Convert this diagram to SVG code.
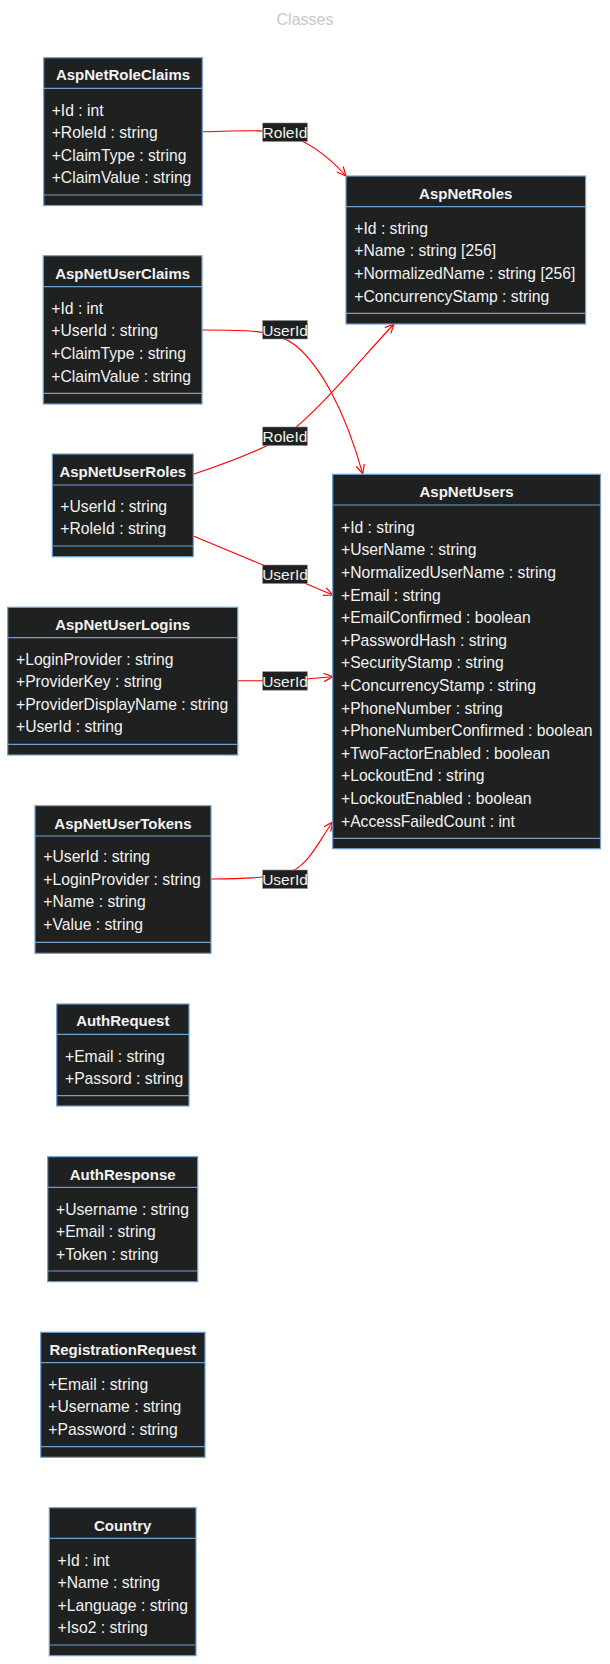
<svg xmlns="http://www.w3.org/2000/svg" width="610" height="1664" viewBox="0 0 610 1664">
<style>
.box{fill:#1f2020;stroke:#6f9fcf;stroke-width:1.2}
.div{stroke:#6f9fcf;stroke-width:1.2}
.hd{font-family:"Liberation Sans",Arial,sans-serif;font-size:15px;font-weight:bold;fill:#f2f2f2;text-anchor:middle;dominant-baseline:central}
.at{font-family:"Liberation Sans",Arial,sans-serif;font-size:15.7px;fill:#f2f2f2;dominant-baseline:central}
.title{font-family:"Liberation Sans",Arial,sans-serif;font-size:16px;fill:#c8c8c8;text-anchor:middle;dominant-baseline:central}
.edge{fill:none;stroke:#ff0000;stroke-width:1.1}
.lbg{fill:#1f2020;stroke:#8a8a8a;stroke-width:0.6}
.lt{font-family:"Liberation Sans",Arial,sans-serif;font-size:15.5px;fill:#f2f2f2;text-anchor:middle;dominant-baseline:central}
</style>
<defs>
<marker id="arr" viewBox="0 0 10 10" refX="9.5" refY="5" markerWidth="10" markerHeight="10" markerUnits="userSpaceOnUse" orient="auto">
<path d="M0.5,0.8 L9.5,5 L0.5,9.2" fill="none" stroke="#ff0000" stroke-width="1.2"/>
</marker>
</defs>
<rect width="610" height="1664" fill="#ffffff"/>
<text class="title" x="305" y="19">Classes</text>

<g id="connectors">
<path class="edge" d="M202.3,131.7 C240,131 262,129 285,134 C310,142 330,158 346,176" marker-end="url(#arr)"/>
<path class="edge" d="M202,330 C250,330 275,330 295,345 C320,365 345,410 362.7,473.8" marker-end="url(#arr)"/>
<path class="edge" d="M193.3,474.3 C230,462 262,450 285,436 C320,410 360,360 394,324" marker-end="url(#arr)"/>
<path class="edge" d="M193.3,536 L263,565 Q285,574 305,583.3 L332.7,595" marker-end="url(#arr)"/>
<path class="edge" d="M237.7,680.7 L285,680.7 L332.7,676.7" marker-end="url(#arr)"/>
<path class="edge" d="M211,879 C245,879 265,878 285,874 C308,868 318,842 332.7,822" marker-end="url(#arr)"/>
<g id="labels">
<rect class="lbg" x="262.7" y="123" width="44.6" height="18.5"/><text class="lt" x="285" y="132.5">RoleId</text>
<rect class="lbg" x="262.7" y="320.5" width="44.6" height="18.5"/><text class="lt" x="285" y="330">UserId</text>
<rect class="lbg" x="262.7" y="427" width="44.6" height="18.5"/><text class="lt" x="285" y="436.5">RoleId</text>
<rect class="lbg" x="262.7" y="565" width="44.6" height="18.5"/><text class="lt" x="285" y="574.5">UserId</text>
<rect class="lbg" x="262.7" y="671.7" width="44.6" height="18.5"/><text class="lt" x="285" y="681">UserId</text>
<rect class="lbg" x="262.7" y="870" width="44.6" height="18.5"/><text class="lt" x="285" y="879.5">UserId</text>
</g>
</g>

<g id="AspNetRoleClaims">
<rect class="box" x="43.7" y="57.7" width="158.6" height="147.8"/>
<line class="div" x1="43.7" y1="88.3" x2="202.3" y2="88.3"/>
<line class="div" x1="43.7" y1="195" x2="202.3" y2="195"/>
<text class="hd" x="123" y="74.5">AspNetRoleClaims</text>
<text class="at" x="51.7" y="110">+Id : int</text>
<text class="at" x="51.7" y="132.6">+RoleId : string</text>
<text class="at" x="51.7" y="155.2">+ClaimType : string</text>
<text class="at" x="51.7" y="177.8">+ClaimValue : string</text>
</g>

<g id="AspNetRoles">
<rect class="box" x="346" y="176" width="239.6" height="148"/>
<line class="div" x1="346" y1="206.7" x2="585.6" y2="206.7"/>
<line class="div" x1="346" y1="313.3" x2="585.6" y2="313.3"/>
<text class="hd" x="465.8" y="193">AspNetRoles</text>
<text class="at" x="354.3" y="228.3">+Id : string</text>
<text class="at" x="354.3" y="250.9">+Name : string [256]</text>
<text class="at" x="354.3" y="273.5">+NormalizedName : string [256]</text>
<text class="at" x="354.3" y="296.1">+ConcurrencyStamp : string</text>
</g>

<g id="AspNetUserClaims">
<rect class="box" x="43.3" y="255.7" width="158.7" height="148.3"/>
<line class="div" x1="43.3" y1="286.7" x2="202" y2="286.7"/>
<line class="div" x1="43.3" y1="393.3" x2="202" y2="393.3"/>
<text class="hd" x="122.7" y="273">AspNetUserClaims</text>
<text class="at" x="51.3" y="308.3">+Id : int</text>
<text class="at" x="51.3" y="330.9">+UserId : string</text>
<text class="at" x="51.3" y="353.5">+ClaimType : string</text>
<text class="at" x="51.3" y="376.1">+ClaimValue : string</text>
</g>

<g id="AspNetUserRoles">
<rect class="box" x="52.3" y="454" width="141" height="102.7"/>
<line class="div" x1="52.3" y1="485" x2="193.3" y2="485"/>
<line class="div" x1="52.3" y1="546" x2="193.3" y2="546"/>
<text class="hd" x="122.8" y="471.5">AspNetUserRoles</text>
<text class="at" x="60.3" y="506.3">+UserId : string</text>
<text class="at" x="60.3" y="528.9">+RoleId : string</text>
</g>

<g id="AspNetUsers">
<rect class="box" x="332.7" y="474.3" width="267.8" height="374.4"/>
<line class="div" x1="332.7" y1="505" x2="600.5" y2="505"/>
<line class="div" x1="332.7" y1="838.4" x2="600.5" y2="838.4"/>
<text class="hd" x="466.6" y="491.5">AspNetUsers</text>
<text class="at" x="341" y="527.3">+Id : string</text>
<text class="at" x="341" y="549.9">+UserName : string</text>
<text class="at" x="341" y="572.5">+NormalizedUserName : string</text>
<text class="at" x="341" y="595.1">+Email : string</text>
<text class="at" x="341" y="617.7">+EmailConfirmed : boolean</text>
<text class="at" x="341" y="640.3">+PasswordHash : string</text>
<text class="at" x="341" y="662.9">+SecurityStamp : string</text>
<text class="at" x="341" y="685.5">+ConcurrencyStamp : string</text>
<text class="at" x="341" y="708.1">+PhoneNumber : string</text>
<text class="at" x="341" y="730.7">+PhoneNumberConfirmed : boolean</text>
<text class="at" x="341" y="753.3">+TwoFactorEnabled : boolean</text>
<text class="at" x="341" y="775.9">+LockoutEnd : string</text>
<text class="at" x="341" y="798.5">+LockoutEnabled : boolean</text>
<text class="at" x="341" y="821.1">+AccessFailedCount : int</text>
</g>

<g id="AspNetUserLogins">
<rect class="box" x="7.7" y="607.3" width="230" height="147.7"/>
<line class="div" x1="7.7" y1="637.7" x2="237.7" y2="637.7"/>
<line class="div" x1="7.7" y1="744.3" x2="237.7" y2="744.3"/>
<text class="hd" x="122.7" y="624.8">AspNetUserLogins</text>
<text class="at" x="16" y="659">+LoginProvider : string</text>
<text class="at" x="16" y="681.6">+ProviderKey : string</text>
<text class="at" x="16" y="704.2">+ProviderDisplayName : string</text>
<text class="at" x="16" y="726.8">+UserId : string</text>
</g>

<g id="AspNetUserTokens">
<rect class="box" x="35" y="805.7" width="176" height="147.6"/>
<line class="div" x1="35" y1="836" x2="211" y2="836"/>
<line class="div" x1="35" y1="942.3" x2="211" y2="942.3"/>
<text class="hd" x="123" y="823">AspNetUserTokens</text>
<text class="at" x="43.3" y="856.7">+UserId : string</text>
<text class="at" x="43.3" y="879.3">+LoginProvider : string</text>
<text class="at" x="43.3" y="901.9">+Name : string</text>
<text class="at" x="43.3" y="924.5">+Value : string</text>
</g>

<g id="AuthRequest">
<rect class="box" x="56.7" y="1004" width="132.3" height="102"/>
<line class="div" x1="56.7" y1="1034.3" x2="189" y2="1034.3"/>
<line class="div" x1="56.7" y1="1095.7" x2="189" y2="1095.7"/>
<text class="hd" x="122.8" y="1020.5">AuthRequest</text>
<text class="at" x="65" y="1056">+Email : string</text>
<text class="at" x="65" y="1078">+Passord : string</text>
</g>

<g id="AuthResponse">
<rect class="box" x="47.7" y="1156.7" width="150" height="125"/>
<line class="div" x1="47.7" y1="1187.3" x2="197.7" y2="1187.3"/>
<line class="div" x1="47.7" y1="1271" x2="197.7" y2="1271"/>
<text class="hd" x="122.7" y="1174">AuthResponse</text>
<text class="at" x="56" y="1209.3">+Username : string</text>
<text class="at" x="56" y="1231.7">+Email : string</text>
<text class="at" x="56" y="1254">+Token : string</text>
</g>

<g id="RegistrationRequest">
<rect class="box" x="40.7" y="1332.3" width="164.3" height="125"/>
<line class="div" x1="40.7" y1="1362.7" x2="205" y2="1362.7"/>
<line class="div" x1="40.7" y1="1446.7" x2="205" y2="1446.7"/>
<text class="hd" x="122.8" y="1349.8">RegistrationRequest</text>
<text class="at" x="48.3" y="1384">+Email : string</text>
<text class="at" x="48.3" y="1406.7">+Username : string</text>
<text class="at" x="48.3" y="1429.4">+Password : string</text>
</g>

<g id="Country">
<rect class="box" x="49.3" y="1507.7" width="146.7" height="148"/>
<line class="div" x1="49.3" y1="1538.3" x2="196" y2="1538.3"/>
<line class="div" x1="49.3" y1="1645" x2="196" y2="1645"/>
<text class="hd" x="122.7" y="1525">Country</text>
<text class="at" x="57.6" y="1560">+Id : int</text>
<text class="at" x="57.6" y="1582.6">+Name : string</text>
<text class="at" x="57.6" y="1605.2">+Language : string</text>
<text class="at" x="57.6" y="1627.8">+Iso2 : string</text>
</g>
</svg>
